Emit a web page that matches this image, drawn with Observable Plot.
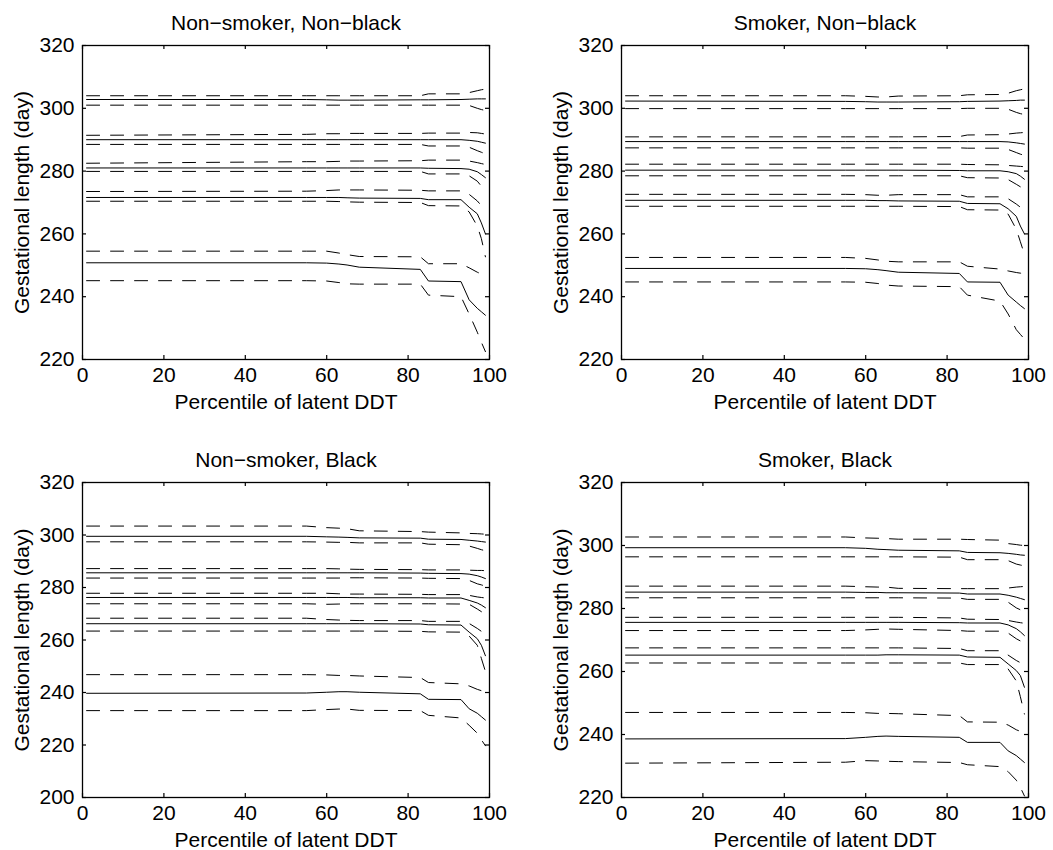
<!DOCTYPE html>
<html>
<head>
<meta charset="utf-8">
<script src="https://cdn.jsdelivr.net/npm/d3@7"></script>
<script src="https://cdn.jsdelivr.net/npm/@observablehq/plot@0.6"></script>
<style>
  html, body { margin: 0; padding: 0; background: #fff; }
  #fig { position: relative; width: 1053px; height: 850px; overflow: hidden; background: #fff; }
  #fig > svg { position: absolute; overflow: visible; }
</style>
</head>
<body>
<div id="fig"></div>
<script>
// Percentiles of latent DDT at which the curves are evaluated.
const percentile = [1, 55, 60, 63, 65, 68, 83, 85, 93, 95, 97, 98, 99];

// Tick values.
const xTicks = [0, 20, 40, 60, 80, 100];
const yTicks220 = [220, 240, 260, 280, 300, 320];
const yTicks200 = [200, 220, 240, 260, 280, 300, 320];

// Each array holds five quantile curves of gestational length (days),
// ordered from the highest quantile to the lowest; "upper"/"lower" are the
// dashed interval bounds around each solid curve.

// Non-smoker, Non-black
const nsnbUpper = [
  [304.0, 304.0, 304.0, 304.0, 304.0, 304.0, 304.0, 304.6, 304.6, 305.0, 305.6, 305.9, 306.1],
  [291.4, 291.7, 291.9, 291.9, 292.0, 292.0, 292.0, 292.1, 292.1, 292.3, 292.2, 292.0, 291.8],
  [282.5, 283.0, 283.0, 283.1, 283.2, 283.2, 283.3, 283.5, 283.5, 283.2, 282.7, 282.4, 282.1],
  [273.5, 273.6, 273.8, 274.0, 274.0, 274.0, 273.9, 273.7, 273.7, 272.6, 270.5, 269.0, 267.0],
  [254.5, 254.5, 254.5, 253.9, 253.4, 252.8, 252.7, 250.5, 250.5, 249.2, 247.8, 247.2, 246.6]
];
const nsnbMid = [
  [302.8, 302.8, 302.7, 302.6, 302.6, 302.6, 302.7, 302.7, 302.8, 302.9, 303.0, 303.0, 303.0],
  [290.0, 290.0, 290.0, 290.0, 290.0, 290.0, 290.0, 290.0, 290.0, 289.8, 289.5, 289.2, 288.9],
  [281.0, 281.0, 281.0, 281.0, 281.0, 281.0, 281.0, 280.9, 280.8, 280.6, 279.8, 278.9, 277.9],
  [271.6, 271.6, 271.6, 271.6, 271.5, 271.4, 271.3, 270.9, 270.9, 268.5, 266.4, 263.5, 260.0],
  [250.8, 250.8, 250.7, 250.4, 250.1, 249.4, 248.7, 245.0, 244.8, 239.0, 236.3, 235.2, 234.1]
];
const nsnbLower = [
  [301.0, 301.0, 301.0, 301.0, 301.0, 301.0, 301.0, 301.0, 301.0, 300.9, 300.0, 299.6, 299.3],
  [288.5, 288.5, 288.5, 288.5, 288.5, 288.5, 288.5, 288.0, 288.0, 287.6, 286.5, 286.0, 285.5],
  [279.9, 279.9, 279.9, 279.9, 279.9, 279.9, 279.9, 279.1, 279.1, 278.5, 276.8, 275.2, 273.3],
  [270.4, 270.4, 270.4, 270.3, 270.2, 270.1, 270.0, 269.0, 268.9, 267.0, 262.5, 258.5, 252.7],
  [245.1, 245.1, 245.0, 244.5, 244.1, 244.0, 244.0, 240.5, 240.0, 234.5, 228.7, 225.5, 222.5]
];

// Smoker, Non-black
const snbUpper = [
  [304.0, 304.0, 303.8, 303.6, 303.6, 303.9, 304.0, 304.3, 304.4, 304.8, 305.6, 305.9, 306.2],
  [290.9, 290.9, 290.9, 290.9, 290.9, 290.9, 291.0, 291.5, 291.6, 291.8, 292.1, 292.2, 292.3],
  [282.2, 282.2, 282.2, 282.2, 282.2, 282.2, 282.2, 282.1, 282.0, 281.8, 281.6, 281.5, 281.4],
  [272.6, 272.6, 272.5, 272.3, 272.3, 272.5, 272.5, 271.8, 271.8, 271.2, 269.5, 268.5, 267.5],
  [252.5, 252.5, 252.2, 251.7, 251.3, 251.1, 251.1, 249.7, 248.8, 248.2, 247.7, 247.5, 247.3]
];
const snbMid = [
  [302.3, 302.2, 302.1, 302.0, 302.0, 302.0, 302.1, 302.2, 302.3, 302.4, 302.5, 302.6, 302.6],
  [289.4, 289.4, 289.4, 289.4, 289.4, 289.4, 289.4, 289.4, 289.4, 289.3, 289.0, 288.8, 288.6],
  [280.3, 280.3, 280.3, 280.3, 280.3, 280.3, 280.2, 280.1, 280.1, 279.8, 279.2, 278.4, 277.4],
  [270.7, 270.7, 270.7, 270.6, 270.6, 270.5, 270.4, 269.7, 269.6, 268.0, 265.6, 262.5, 260.0],
  [249.0, 249.0, 248.9, 248.6, 248.3, 247.8, 247.4, 244.7, 244.6, 240.5, 238.3, 237.2, 236.2]
];
const snbLower = [
  [299.9, 299.9, 299.9, 299.9, 299.9, 299.9, 299.9, 300.0, 300.0, 299.7, 298.7, 298.3, 298.0],
  [287.4, 287.4, 287.4, 287.4, 287.4, 287.4, 287.4, 287.3, 287.3, 286.9, 285.9, 285.4, 285.0],
  [278.5, 278.5, 278.5, 278.5, 278.5, 278.5, 278.5, 277.9, 277.8, 277.3, 275.8, 275.0, 274.0],
  [268.8, 268.8, 268.8, 268.8, 268.8, 268.8, 268.7, 267.7, 267.6, 266.3, 261.5, 257.5, 253.5],
  [244.7, 244.7, 244.6, 244.2, 243.7, 243.4, 243.2, 240.5, 238.6, 234.5, 229.5, 228.0, 226.5]
];

// Non-smoker, Black
const nsbUpper = [
  [303.4, 303.4, 302.8, 302.6, 302.4, 301.6, 301.3, 301.1, 300.8, 300.6, 300.5, 300.4, 300.3],
  [287.2, 287.2, 287.2, 287.1, 287.0, 286.9, 286.8, 286.7, 286.7, 286.6, 286.5, 286.5, 286.4],
  [277.8, 277.8, 277.8, 277.6, 277.5, 277.5, 277.4, 277.3, 277.3, 277.0, 276.4, 276.2, 276.0],
  [268.3, 268.3, 267.8, 267.6, 267.5, 267.4, 267.4, 267.1, 267.1, 266.3, 264.4, 263.3, 262.0],
  [246.8, 246.8, 246.7, 246.5, 246.5, 246.3, 245.7, 243.8, 243.3, 242.5, 241.2, 240.7, 240.3]
];
const nsbMid = [
  [299.5, 299.5, 299.3, 299.2, 299.1, 298.9, 298.8, 298.4, 298.3, 298.0, 297.7, 297.5, 297.3],
  [285.6, 285.6, 285.6, 285.6, 285.6, 285.6, 285.5, 285.4, 285.3, 285.1, 284.5, 284.0, 283.4],
  [276.2, 276.2, 276.2, 276.2, 276.2, 276.1, 276.1, 276.0, 276.0, 275.1, 274.1, 273.3, 272.3],
  [266.2, 266.2, 266.2, 266.2, 266.2, 266.2, 266.1, 265.8, 265.7, 263.0, 260.5, 258.0, 254.0],
  [239.7, 239.8, 240.1, 240.3, 240.3, 240.1, 239.5, 237.4, 237.3, 233.8, 232.1, 230.8, 229.5]
];
const nsbLower = [
  [297.4, 297.4, 297.3, 297.2, 297.2, 297.0, 297.0, 296.5, 296.3, 295.8, 294.9, 294.4, 294.0],
  [283.6, 283.6, 283.6, 283.6, 283.7, 283.7, 283.6, 283.5, 283.4, 282.7, 281.4, 281.0, 280.5],
  [273.8, 273.8, 273.6, 273.7, 273.8, 273.8, 273.8, 273.8, 273.7, 273.6, 271.8, 270.8, 270.0],
  [263.4, 263.4, 263.4, 263.4, 263.4, 263.4, 263.3, 263.1, 263.0, 261.5, 258.0, 253.0, 248.0],
  [233.1, 233.1, 233.5, 233.7, 233.7, 233.2, 233.1, 231.3, 230.3, 227.5, 224.5, 222.0, 219.7]
];

// Smoker, Black
const sbUpper = [
  [302.7, 302.7, 302.4, 302.3, 302.2, 302.0, 302.0, 301.9, 301.7, 300.6, 300.3, 300.1, 300.0],
  [287.1, 287.1, 286.9, 286.8, 286.8, 286.4, 286.3, 286.3, 286.3, 286.5, 286.8, 286.9, 287.0],
  [277.2, 277.2, 277.2, 277.2, 277.2, 277.2, 277.0, 276.6, 276.5, 276.2, 275.7, 275.5, 275.3],
  [267.5, 267.5, 267.5, 267.5, 267.5, 267.5, 267.3, 266.6, 266.6, 265.2, 263.5, 262.8, 262.0],
  [247.0, 247.0, 246.9, 246.7, 246.7, 246.6, 246.0, 244.0, 243.9, 243.0, 241.5, 241.0, 240.5]
];
const sbMid = [
  [299.3, 299.3, 299.1, 298.8, 298.7, 298.5, 298.3, 297.8, 297.7, 297.5, 297.2, 297.0, 296.9],
  [285.2, 285.2, 285.1, 285.1, 285.0, 285.0, 284.9, 284.6, 284.6, 284.2, 283.6, 283.2, 282.8],
  [275.6, 275.6, 275.6, 275.6, 275.6, 275.6, 275.5, 275.4, 275.4, 274.8, 273.6, 272.6, 271.4],
  [265.2, 265.2, 265.2, 265.2, 265.3, 265.3, 265.2, 264.6, 264.5, 262.4, 260.3, 258.7, 255.0],
  [238.6, 238.7, 239.1, 239.4, 239.5, 239.4, 239.1, 237.5, 237.5, 234.8, 233.3, 232.2, 231.1]
];
const sbLower = [
  [296.4, 296.4, 296.4, 296.4, 296.4, 296.4, 296.3, 295.5, 295.5, 295.2, 294.1, 293.8, 293.5],
  [283.4, 283.4, 283.4, 283.4, 283.4, 283.4, 283.3, 282.9, 282.9, 282.0, 280.2, 279.6, 279.0],
  [273.0, 273.0, 273.2, 273.4, 273.5, 273.4, 273.0, 272.8, 272.8, 272.2, 270.4, 269.7, 269.0],
  [262.7, 262.7, 262.7, 262.7, 262.7, 262.7, 262.7, 262.2, 262.2, 260.8, 257.0, 252.0, 246.5],
  [230.9, 231.2, 231.7, 231.6, 231.5, 231.4, 231.1, 230.4, 229.8, 228.2, 225.5, 223.2, 220.5]
];

const FONT = "'Liberation Sans', Arial, Helvetica, sans-serif";
const FS = 21;

// Page placement of each subplot (SVG box and plotting frame).
const panels = [
  {title: "Non−smoker, Non−black", upper: nsnbUpper, mid: nsnbMid, lower: nsnbLower,
   yDomain: [220, 320], yTicks: yTicks220, left: 0, top: 0, frameL: 82, frameR: 489, frameT: 45, frameB: 359},
  {title: "Smoker, Non−black", upper: snbUpper, mid: snbMid, lower: snbLower,
   yDomain: [220, 320], yTicks: yTicks220, left: 527, top: 0, frameL: 621, frameR: 1028, frameT: 45, frameB: 359},
  {title: "Non−smoker, Black", upper: nsbUpper, mid: nsbMid, lower: nsbLower,
   yDomain: [200, 320], yTicks: yTicks200, left: 0, top: 425, frameL: 82, frameR: 489, frameT: 482, frameB: 797},
  {title: "Smoker, Black", upper: sbUpper, mid: sbMid, lower: sbLower,
   yDomain: [220, 320], yTicks: yTicks220, left: 527, top: 425, frameL: 621, frameR: 1028, frameT: 482, frameB: 797}
];

function curveRows(p) {
  const rows = [];
  for (const [kind, curves] of [["upper", p.upper], ["mid", p.mid], ["lower", p.lower]]) {
    curves.forEach((values, g) => {
      values.forEach((v, i) => rows.push({id: kind + g, kind, x: percentile[i], y: v}));
    });
  }
  return rows;
}

function drawPanel(p) {
  const W = 526, H = 425;
  const ml = p.frameL - p.left, mr = (p.left + W) - p.frameR;
  const mt = p.frameT - p.top, mb = (p.top + H) - p.frameB;
  const fw = p.frameR - p.frameL, fh = p.frameB - p.frameT;
  const rows = curveRows(p);
  const tick = 4;

  const svg = Plot.plot({
    width: W, height: H,
    marginLeft: ml, marginRight: mr, marginTop: mt, marginBottom: mb,
    x: {domain: [0, 100]},
    y: {domain: p.yDomain},
    style: {fontFamily: FONT, fontSize: FS + "px", color: "black", background: "transparent", overflow: "visible"},
    marks: [
      Plot.line(rows.filter(d => d.kind !== "mid"), {
        x: "x", y: "y", z: "id", stroke: "black", strokeWidth: 1, strokeDasharray: "13,11"
      }),
      Plot.line(rows.filter(d => d.kind === "mid"), {
        x: "x", y: "y", z: "id", stroke: "black", strokeWidth: 1
      }),
      Plot.frame({stroke: "black", strokeWidth: 1.3}),
      // inward ticks on all four sides
      Plot.tickX(xTicks, {x: d => d, insetTop: fh - tick, stroke: "black", strokeWidth: 1.2}),
      Plot.tickX(xTicks, {x: d => d, insetBottom: fh - tick, stroke: "black", strokeWidth: 1.2}),
      Plot.tickY(p.yTicks, {y: d => d, insetRight: fw - tick, stroke: "black", strokeWidth: 1.2}),
      Plot.tickY(p.yTicks, {y: d => d, insetLeft: fw - tick, stroke: "black", strokeWidth: 1.2}),
      Plot.axisX({ticks: xTicks, tickSize: 0, tickPadding: 8, fontSize: FS, label: null}),
      Plot.axisY({ticks: p.yTicks, tickSize: 0, tickPadding: 8, fontSize: FS, label: null}),
      Plot.text([p.title], {text: d => d, frameAnchor: "top", textAnchor: "middle", lineAnchor: "middle", dy: -22, fontSize: FS}),
      Plot.text(["Percentile of latent DDT"], {text: d => d, frameAnchor: "bottom", textAnchor: "middle", lineAnchor: "middle", dy: 43, fontSize: FS}),
      Plot.text(["Gestational length (day)"], {text: d => d, frameAnchor: "left", textAnchor: "middle", lineAnchor: "middle", rotate: -90, dx: -60, fontSize: FS})
    ]
  });
  svg.style.left = p.left + "px";
  svg.style.top = p.top + "px";
  document.getElementById("fig").appendChild(svg);
}

panels.forEach(drawPanel);
</script>
</body>
</html>
